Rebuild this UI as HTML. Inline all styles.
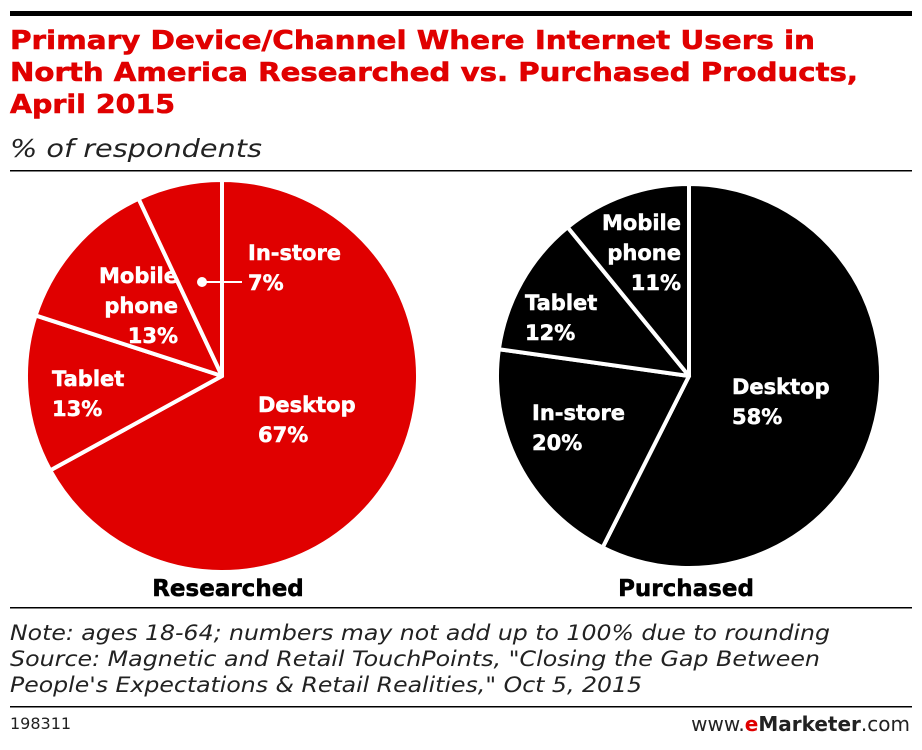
<!DOCTYPE html>
<html><head><meta charset="utf-8"><style>
body{margin:0;background:#fff;width:922px;height:750px;overflow:hidden;font-family:"DejaVu Sans","Liberation Sans",sans-serif}
svg{position:absolute;left:0;top:0}
</style></head><body>
<svg width="922" height="750" font-family="DejaVu Sans, Liberation Sans, sans-serif">
<rect x="10" y="11" width="902" height="5" fill="#000"/>
<g font-weight="bold" font-size="26" fill="#e00000" stroke="#e00000" stroke-width="0.6">
<text x="10" y="49" textLength="805" lengthAdjust="spacingAndGlyphs">Primary Device/Channel Where Internet Users in</text>
<text x="10" y="81" textLength="848" lengthAdjust="spacingAndGlyphs">North America Researched vs. Purchased Products,</text>
<text x="10" y="113" textLength="165" lengthAdjust="spacingAndGlyphs">April 2015</text></g>
<text x="10" y="157" font-size="25" font-style="italic" fill="#222" textLength="252" lengthAdjust="spacingAndGlyphs">% of respondents</text>
<rect x="10" y="170" width="902" height="1.5" fill="#000"/>
<g id="pies"></g>
<text x="228" y="596" font-size="23" font-weight="bold" text-anchor="middle" stroke="#000" stroke-width="0.5">Researched</text>
<text x="686" y="596" font-size="23" font-weight="bold" text-anchor="middle" stroke="#000" stroke-width="0.5">Purchased</text>
<rect x="10" y="607" width="902" height="1.5" fill="#000"/>
<g font-size="21" font-style="italic" fill="#222">
<text x="10" y="640" textLength="820" lengthAdjust="spacingAndGlyphs">Note: ages 18-64; numbers may not add up to 100% due to rounding</text>
<text x="10" y="666" textLength="810" lengthAdjust="spacingAndGlyphs">Source: Magnetic and Retail TouchPoints, "Closing the Gap Between</text>
<text x="10" y="692" textLength="632" lengthAdjust="spacingAndGlyphs">People's Expectations &amp; Retail Realities," Oct 5, 2015</text></g>
<rect x="10" y="706" width="902" height="1.5" fill="#000"/>
<text x="10" y="729" font-size="16" fill="#222">198311</text>
<text x="910" y="731" font-size="20" text-anchor="end" fill="#222">www.<tspan font-weight="bold" fill="#e00000">e</tspan><tspan font-weight="bold">Marketer</tspan>.com</text>
</svg>
<script>
const researchedLabels=["Desktop","Tablet","Mobile phone","In-store"];
const researchedValues=[67,13,13,7];
const purchasedLabels=["Desktop","In-store","Tablet","Mobile phone"];
const purchasedValues=[58,20,12,11];
const NS="http://www.w3.org/2000/svg";
const g=document.getElementById('pies');
function pt(cx,cy,r,f){const a=f*2*Math.PI;return [cx+r*Math.sin(a),cy-r*Math.cos(a)];}
function pie(cx,cy,r,labels,values,color,name,labelPos){
  const tot=values.reduce((a,b)=>a+b,0);let acc=0;
  values.forEach((v,i)=>{
    const f0=acc/tot,f1=(acc+v)/tot;acc+=v;
    const p0=pt(cx,cy,r,f0),p1=pt(cx,cy,r,f1);
    const p=document.createElementNS(NS,'path');
    p.setAttribute('d',`M${cx},${cy}L${p0[0]},${p0[1]}A${r},${r} 0 ${f1-f0>0.5?1:0} 1 ${p1[0]},${p1[1]}Z`);
    p.setAttribute('fill',color);p.setAttribute('stroke','#fff');p.setAttribute('stroke-width','4');p.setAttribute('stroke-linejoin','round');
    
    
    g.appendChild(p);
    const lp=labelPos[i];
    const lines=labels[i].split(' ').concat([v+'%']);
    const t=document.createElementNS(NS,'text');
    t.setAttribute('x',lp[0]);t.setAttribute('y',lp[1]);t.setAttribute('fill','#fff');
    t.setAttribute('stroke','#fff');t.setAttribute('stroke-width','0.5');
    t.setAttribute('font-size','21');t.setAttribute('font-weight','bold');t.setAttribute('text-anchor',lp[2]||'start');
    
    
    lines.forEach((s,j)=>{const ts=document.createElementNS(NS,'tspan');ts.setAttribute('x',lp[0]);if(j)ts.setAttribute('dy','30');ts.textContent=s;t.appendChild(ts);});
    g.appendChild(t);
  });
}
pie(222,376,196,researchedLabels,researchedValues,'#e00000','researched',[[258,412],[52,386],[178,283,'end'],[248,260]]);
pie(689,376,192,purchasedLabels,purchasedValues,'#000','purchased',[[732,394],[532,420],[525,310],[681,230,'end']]);
const dot=document.createElementNS(NS,'circle');dot.setAttribute('cx',202);dot.setAttribute('cy',282);dot.setAttribute('r',5);dot.setAttribute('fill','#fff');


g.appendChild(dot);
const ln=document.createElementNS(NS,'line');ln.setAttribute('x1',202);ln.setAttribute('y1',282);ln.setAttribute('x2',242);ln.setAttribute('y2',282);ln.setAttribute('stroke','#fff');ln.setAttribute('stroke-width','2');


g.appendChild(ln);
</script>
</body></html>
